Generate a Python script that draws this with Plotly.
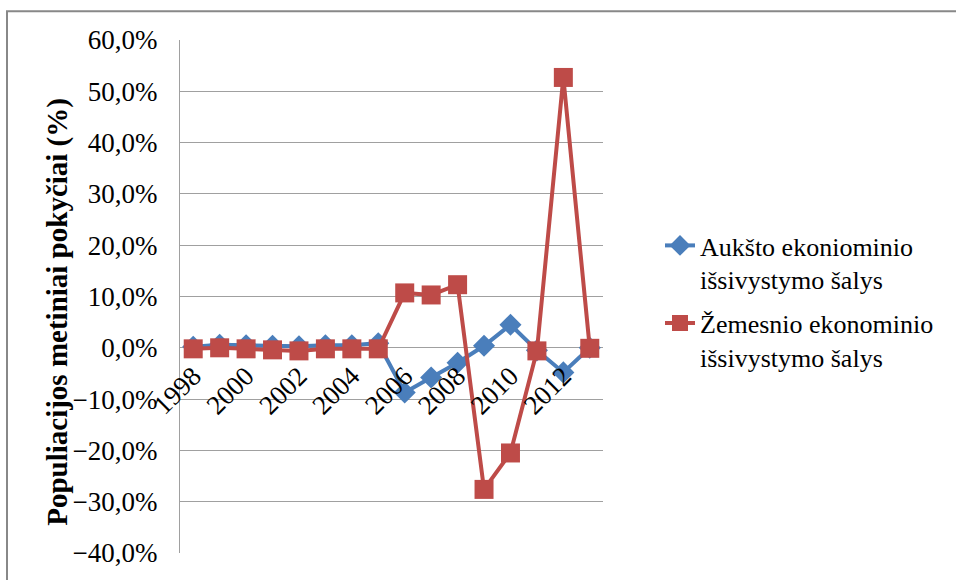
import plotly.graph_objects as go

# Annual population change, %, by year
years = [str(y) for y in range(1998, 2014)]
high_income = [0.2, 0.6, 0.5, 0.4, 0.3, 0.5, 0.5, 0.9, -8.7, -5.8, -2.9, 0.4, 4.5, -0.5, -4.8, 0.0]
lower_income = [-0.2, 0.0, -0.2, -0.4, -0.6, -0.2, -0.2, -0.2, 10.7, 10.3, 12.3, -27.6, -20.5, -0.6, 52.7, -0.1]

series_names = ["Aukšto ekoniominio<br>išsivystymo šalys",
                "Žemesnio ekonominio<br>išsivystymo šalys"]
y_title = "Populiacijos metiniai pokyčiai (%)"
y_min, y_max, y_step = -40, 60, 10
tick_years = years[::2]

FONT = "Liberation Serif"
BLUE = "#4a7ebb"
RED = "#be4b48"
GRID = "#a0a0a0"

# plot-area geometry in pixels (used to place the frame and axis title)
L, R, T, B = 180, 353, 40, 21
W, H = 956, 580
PW, PH = W - L - R, H - T - B


def px_to_paper_x(px):
    return (px - L) / PW


def px_to_paper_y(py):
    return (H - B - py) / PH


fig = go.Figure()
fig.add_trace(go.Scatter(
    x=years, y=high_income, name=series_names[0], mode="lines+markers",
    line=dict(color=BLUE, width=4),
    marker=dict(symbol="diamond", size=17, color=BLUE),
    legendgroup="a",
))
fig.add_trace(go.Scatter(
    x=years, y=lower_income, name=series_names[1], mode="lines+markers",
    line=dict(color=RED, width=4),
    marker=dict(symbol="square", size=19, color=RED),
    legendgroup="b",
))

# category axis crosses the value axis at zero
zero_pos = (0 - y_min) / (y_max - y_min)

fig.update_layout(
    width=W, height=H,
    margin=dict(l=L, r=R, t=T, b=B),
    paper_bgcolor="white", plot_bgcolor="white",
    font=dict(family=FONT, size=26, color="black"),
    separators=",.",
    showlegend=True,
    legend=dict(
        xref="container", yref="container",
        x=660 / W, y=1 - 222 / H, xanchor="left", yanchor="top",
        valign="top", tracegroupgap=7,
        font=dict(family=FONT, size=26, color="black"),
        bgcolor="rgba(0,0,0,0)",
    ),
    xaxis=dict(
        type="category", range=[-0.5, len(years) - 0.5],
        tickvals=tick_years, ticktext=tick_years,
        tickangle=-45, ticks="", showgrid=False, showline=False,
        anchor="free", position=zero_pos, ticklabelstandoff=6,
        tickfont=dict(family=FONT, size=27, color="black"),
    ),
    yaxis=dict(
        range=[y_min, y_max], dtick=y_step, tick0=0,
        tickformat=".1f", ticksuffix="%",
        showgrid=True, gridcolor=GRID, gridwidth=1.3,
        zeroline=False, showline=True, linecolor=GRID, linewidth=1.3,
        ticks="", ticklabelstandoff=16,
        tickfont=dict(family=FONT, size=27, color="black"),
    ),
    annotations=[dict(
        text="<b>" + y_title + "</b>", textangle=-90,
        xref="paper", yref="paper",
        x=px_to_paper_x(58), y=px_to_paper_y(315),
        xanchor="center", yanchor="middle", showarrow=False,
        font=dict(family=FONT, size=29, color="black"),
    )],
    shapes=[dict(
        type="rect", xref="paper", yref="paper",
        x0=px_to_paper_x(7), x1=px_to_paper_x(990),
        y0=px_to_paper_y(600), y1=px_to_paper_y(11),
        line=dict(color="#888888", width=2), fillcolor="rgba(0,0,0,0)",
        layer="below",
    )],
)

fig.write_html("out.html")
